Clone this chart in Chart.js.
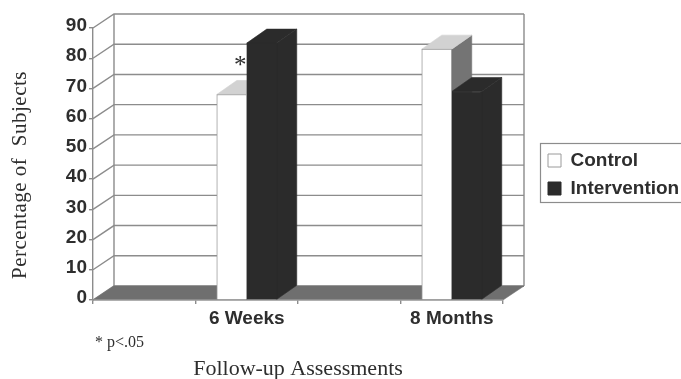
<!DOCTYPE html>
<html>
<head>
<meta charset="utf-8">
<title>Follow-up Assessments</title>
<script src="https://cdn.jsdelivr.net/npm/chart.js@4"></script>
<style>
  html, body { margin: 0; padding: 0; background: #fff; }
  canvas { display: block; filter: blur(0.5px); }
</style>
</head>
<body>
<canvas id="myChart" width="681" height="379"></canvas>
<script>
// Values
const categories = ['', '6 Weeks', '', '8 Months'];
const control = [null, 68, null, 83];
const intervention = [null, 85, null, 69];

const yTitle = 'Percentage of  Subjects';
const xTitle = 'Follow-up Assessments';
const note = '* p<.05';

const gridColor = '#8c8c8c';
const textColor = '#2e2e2e';
const serif = '"Liberation Serif", serif';
const sans = '"Liberation Sans", Arial, sans-serif';

// depth of the fake 3D
const wallDx = 21, wallDy = 14;
const barDx = 20, barDy = 14;

function poly(ctx, pts, fill) {
  ctx.beginPath();
  pts.forEach((p, i) => i ? ctx.lineTo(p[0], p[1]) : ctx.moveTo(p[0], p[1]));
  ctx.closePath();
  ctx.fillStyle = fill;
  ctx.fill();
  ctx.strokeStyle = fill;
  ctx.lineWidth = 0.6;
  ctx.stroke();
}

const walls = {
  id: 'walls',
  beforeDraw(chart) {
    const ctx = chart.ctx, a = chart.chartArea, y = chart.scales.y;
    ctx.save();
    ctx.strokeStyle = gridColor;
    ctx.lineWidth = 1.4;
    y.ticks.forEach(t => {
      const py = y.getPixelForValue(t.value);
      ctx.beginPath();
      ctx.moveTo(a.left, py);
      ctx.lineTo(a.left + wallDx, py - wallDy);
      ctx.lineTo(a.right + wallDx, py - wallDy);
      ctx.stroke();
    });
    ctx.beginPath();
    ctx.moveTo(a.left + wallDx, a.top - wallDy);
    ctx.lineTo(a.left + wallDx, a.bottom - wallDy);
    ctx.moveTo(a.right + wallDx, a.top - wallDy);
    ctx.lineTo(a.right + wallDx, a.bottom - wallDy);
    ctx.stroke();
    // plancher
    poly(ctx, [[a.left, a.bottom], [a.left + wallDx, a.bottom - wallDy],
      [a.right + wallDx, a.bottom - wallDy], [a.right, a.bottom]], '#6f6f6f');
    ctx.restore();
  }
};

const bars3d = {
  id: 'bars3d',
  beforeDatasetsDraw(chart) {
    const ctx = chart.ctx;
    const tops = ['#d2d2d2', '#2b2b2b'];
    const sides = ['#747474', '#2b2b2b'];
    ctx.save();
    [0, 1].forEach(d => {
      const values = chart.data.datasets[d].data;
      chart.getDatasetMeta(d).data.forEach((bar, i) => {
        if (values[i] === null) return;
        const l = bar.x - bar.width / 2, r = bar.x + bar.width / 2;
        poly(ctx, [[r, bar.y], [r + barDx, bar.y - barDy], [r + barDx, bar.base - barDy], [r, bar.base]], sides[d]);
        poly(ctx, [[l, bar.y], [l + barDx, bar.y - barDy], [r + barDx, bar.y - barDy], [r, bar.y]], tops[d]);
      });
    });
    ctx.restore();
  },
  afterDraw(chart) {
    const ctx = chart.ctx;
    ctx.save();
    ctx.fillStyle = textColor;
    ctx.textBaseline = 'alphabetic';
    ctx.font = '25px ' + serif;
    ctx.fillText('*', 234, 73);
    ctx.font = '16px ' + serif;
    ctx.fillText(note, 95, 347);
    // cadre de la legende
    ctx.strokeStyle = gridColor;
    ctx.lineWidth = 1.2;
    ctx.strokeRect(540.5, 143.5, 145, 59);
    // titre vertical
    ctx.font = '21px ' + serif;
    ctx.textAlign = 'center';
    ctx.textBaseline = 'middle';
    ctx.letterSpacing = '0.5px';
    ctx.translate(20, 175);
    ctx.rotate(-Math.PI / 2);
    ctx.fillText(yTitle, 0, 0);
    ctx.restore();
  }
};

const legendPlace = {
  id: 'legendPlace',
  afterLayout(chart) {
    const l = chart.legend;
    l.left = 539; l.right = 681; l.top = 142; l.bottom = 230;
    l.width = 142; l.height = 88;
  }
};

new Chart(document.getElementById('myChart').getContext('2d'), {
  type: 'bar',
  data: {
    labels: categories,
    datasets: [
      { label: 'Control', data: control, backgroundColor: '#ffffff', borderColor: '#9a9a9a', borderWidth: 1, categoryPercentage: 1, barThickness: 30 },
      { label: 'Intervention', data: intervention, backgroundColor: '#2b2b2b', borderColor: '#2b2b2b', borderWidth: 1, categoryPercentage: 1, barThickness: 30 }
    ]
  },
  options: {
    responsive: false,
    animation: false,
    layout: { padding: { left: 0, top: 28, right: 178, bottom: 0 } },
    plugins: {
      tooltip: { enabled: false },
      legend: {
        position: 'chartArea',
        align: 'start',
        labels: {
          color: textColor,
          font: { family: sans, size: 19, weight: 'bold' },
          boxWidth: 13,
          boxHeight: 13,
          padding: 9
        }
      }
    },
    scales: {
      x: {
        afterFit(s) { s.height = 79; },
        grid: { drawOnChartArea: false, color: gridColor, tickLength: 4, lineWidth: 1.4 },
        border: { color: gridColor, width: 1.4 },
        ticks: { color: textColor, font: { family: sans, size: 19, weight: 'bold' }, padding: 3, maxRotation: 0, autoSkip: false },
        title: { display: true, text: xTitle, color: textColor, font: { family: serif, size: 22 }, padding: { top: 0, bottom: -3 } }
      },
      y: {
        min: 0,
        max: 90,
        afterFit(s) { s.width = 93; },
        grid: { drawOnChartArea: false, color: gridColor, tickLength: 4, lineWidth: 1.4 },
        border: { color: gridColor, width: 1.4 },
        ticks: { stepSize: 10, color: textColor, font: { family: sans, size: 19, weight: 'bold' }, padding: 2, labelOffset: -2 }
      }
    }
  },
  plugins: [walls, bars3d, legendPlace]
});
</script>
</body>
</html>
